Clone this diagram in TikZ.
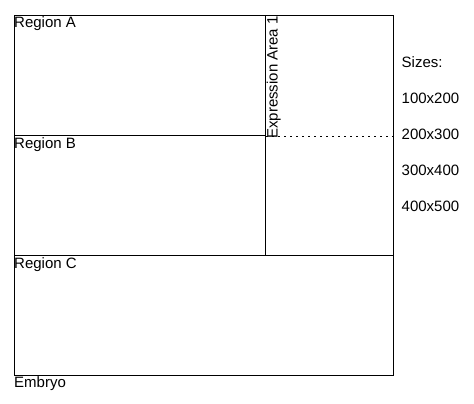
\documentclass[tikz,border=0pt]{standalone}
\usepackage{fontspec}
\setmainfont{Liberation Sans}
\begin{document}
\begin{tikzpicture}[x=1pt,y=-1pt,
  box/.style={draw=black, line width=1.2pt, inner sep=0pt, anchor=north west},
  lbl/.style={inner sep=0pt, anchor=base west, font=\fontsize{15}{17}\selectfont, text=black}]
\useasboundingbox (0,0) rectangle (474,404);
\fill[white] (0,0) rectangle (474,404);
% boxes
\node[box, minimum width=379pt, minimum height=360pt] (embryo) at (14,15) {};
\node[box, minimum width=251pt, minimum height=120pt] (A) at (14,15) {};
\node[box, minimum width=251pt, minimum height=120pt] (B) at (14,135) {};
\node[box, minimum width=379pt, minimum height=120pt] (C) at (14,255) {};
\node[box, minimum width=128pt, minimum height=240pt] (E) at (265,15) {};
% dotted line
\coordinate (dotend) at (E.east |- A.south);
\draw[line width=1.1pt, dash pattern=on 1.5pt off 4.5pt] (A.south east) -- (dotend);
% labels
\node[lbl] (la) at (14,28) {Region A};
\node[lbl] (lb) at (14,148) {Region B};
\node[lbl] (lc) at (14,268.5) {Region C};
\node[lbl] (le) at (14,387.5) {Embryo};
\node[lbl, rotate=90] (lexp) at (277.5,139) {Expression Area 1};
\node[lbl] (s0) at (401.5,67) {Sizes:};
\node[lbl] (s1) at (401.5,103) {100x200};
\node[lbl] (s2) at (401.5,139) {200x300};
\node[lbl] (s3) at (401.5,175) {300x400};
\node[lbl] (s4) at (401.5,211) {400x500};
\end{tikzpicture}
\end{document}
